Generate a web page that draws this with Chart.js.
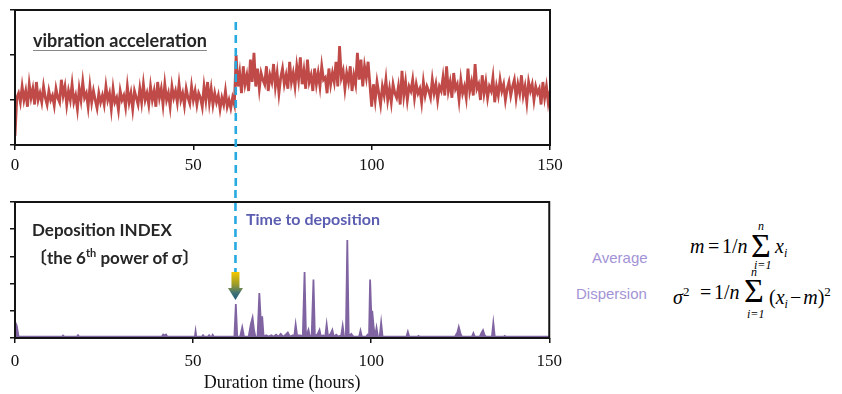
<!DOCTYPE html>
<html>
<head>
<meta charset="utf-8">
<script src="https://cdn.jsdelivr.net/npm/chart.js@4.4.1/dist/chart.umd.min.js"></script>
<style>
  body { margin: 0; width: 842px; height: 394px; background: #fff; position: relative; overflow: hidden; }
  canvas { position: absolute; left: 0; }
  #topChart { top: 0; }
  #bottomChart { top: 190px; }
  .lbl { position: absolute; white-space: nowrap; font-family: Lato, "Noto Sans", "Noto Sans CJK JP", sans-serif; font-weight: 700; color: #262626; }
  .side { position: absolute; white-space: nowrap; font-family: "Liberation Sans", Arial, sans-serif; font-size: 15px; color: #a393d6; }
  .f { position: absolute; white-space: nowrap; font-family: "Liberation Serif", "Times New Roman", serif; font-size: 20px; line-height: 20px; color: #000; }
  .f i { font-style: italic; }
  .sig { position: absolute; font-family: "Liberation Serif", "Times New Roman", serif; font-size: 34px; line-height: 34px; }
  .lim { position: absolute; font-family: "Liberation Serif", "Times New Roman", serif; font-style: italic; font-size: 12px; line-height: 12px; }
  .f sub { font-size: 12px; vertical-align: -4px; }
  .f sup { font-size: 13px; vertical-align: 8px; }
  .op { margin: 0 2px; }
</style>
</head>
<body>
<canvas id="topChart" width="570" height="190"></canvas>
<canvas id="bottomChart" width="570" height="204"></canvas>

<div class="lbl" style="left:33px; top:29px; font-size:18px; line-height:22px; text-decoration:underline; text-decoration-color:#888; text-underline-offset:3px;">vibration acceleration</div>
<div class="lbl" style="left:32px; top:219px; font-size:17px; line-height:22px;">Deposition INDEX</div>
<div class="lbl" style="left:30px; top:242px; font-size:17px; line-height:22px;">〔the 6<sup style="font-size:11px; vertical-align:7px;">th</sup> power of σ〕</div>
<div class="lbl" style="left:246px; top:209px; font-size:16px; line-height:20px; color:#5b5db0;">Time to deposition</div>

<div class="side" style="left:592px; top:249px;">Average</div>
<div class="side" style="left:576px; top:285px;">Dispersion</div>

<div class="f" style="left:690px; top:236px;"><i>m</i></div>
<div class="f" style="left:708px; top:236px;">=</div>
<div class="f" style="left:722px; top:236px;">1/<i>n</i></div>
<div class="sig" style="left:751px; top:229px;">&Sigma;</div>
<div class="lim" style="left:758px; top:220px;">n</div>
<div class="lim" style="left:754px; top:259px;">i=1</div>
<div class="f" style="left:775px; top:236px;"><i>x<sub>i</sub></i></div>

<div class="f" style="left:673px; top:282px;"><i>&sigma;</i><sup>2</sup></div>
<div class="f" style="left:700px; top:282px;">=</div>
<div class="f" style="left:714px; top:282px;">1/<i>n</i></div>
<div class="sig" style="left:744px; top:274px;">&Sigma;</div>
<div class="lim" style="left:751px; top:266px;">n</div>
<div class="lim" style="left:747px; top:308px;">i=1</div>
<div class="f" style="left:769px; top:282px;">(<i>x<sub>i</sub></i><span class="op">&minus;</span><i>m</i>)<sup>2</sup></div>

<script>
// Datos
const SAMPLE_STEP = 0.5;          // horas entre muestras de vibración
const DEPOSITION_HOUR = 61.9;     // "Time to deposition"
const hourTicks = [0, 50, 100, 150];

// aceleración de vibración, una muestra cada 0.5 h (0 .. 150)
const vibValues = [
  0.2, 1.05, 1.15, 0.95, 1.3, 1.0, 1.2, 0.85, 1.35, 1.05,
  1.25, 0.9, 1.4, 1.0, 1.15, 0.95, 1.3, 1.05, 0.9, 1.2,
  1.0, 1.1, 0.88, 1.25, 1.05, 0.95, 1.45, 1.1, 1.3, 0.9,
  1.2, 1.0, 1.35, 0.95, 1.1, 0.8, 1.25, 1.0, 1.4, 1.05,
  1.15, 0.85, 1.3, 0.95, 1.2, 1.0, 0.82, 1.15, 0.95, 1.1,
  0.9, 1.3, 1.0, 1.15, 0.8, 1.25, 0.95, 1.05, 0.78, 1.2,
  1.0, 1.1, 0.85, 1.3, 0.95, 1.15, 0.8, 1.2, 1.05, 0.9,
  1.25, 0.95, 1.35, 1.0, 1.15, 0.9, 1.3, 1.0, 1.2, 0.85,
  1.4, 1.05, 1.25, 0.9, 1.35, 1.0, 1.15, 0.85, 1.3, 1.05,
  1.2, 0.95, 1.35, 1.0, 1.15, 0.88, 1.25, 1.05, 0.92, 1.3,
  1.0, 1.2, 0.9, 1.15, 1.05, 0.85, 1.3, 1.0, 1.4, 0.95,
  1.25, 0.9, 1.15, 0.95, 1.1, 0.8, 1.05, 0.9, 1.2, 0.85,
  1.0, 0.82, 1.05, 0.9,
  2.0, 1.3, 1.6, 1.15, 1.75, 1.35,
  1.55, 1.2, 1.9, 1.4, 2.05, 1.3, 1.7, 1.25, 1.6, 1.45,
  1.35, 1.75, 1.2, 1.55, 1.4, 1.8, 1.3, 1.6, 1.15, 1.5,
  1.7, 1.35, 1.55, 1.25, 1.85, 1.4, 1.6, 1.3, 1.75, 1.45,
  1.95, 1.35, 1.65, 1.25, 1.9, 1.4, 1.55, 1.2, 1.7, 1.35,
  1.6, 1.3, 1.75, 1.45, 1.5, 1.15, 1.7, 1.35, 1.6, 1.4,
  1.85, 1.3, 2.2, 1.5, 1.65, 1.25, 1.6, 1.4, 1.75, 1.2,
  1.55, 1.35, 2.05, 1.45, 1.9, 1.3, 1.75, 1.5, 1.85, 1.35,
  0.85, 1.35, 1.0, 1.4, 1.15, 0.9, 1.3, 1.1, 1.45, 1.0,
  1.25, 0.95, 1.35, 1.15, 1.05, 1.3, 0.9, 1.65, 1.1, 1.4,
  1.0, 1.3, 1.2, 1.45, 1.05, 1.35, 1.15, 1.25, 0.95, 1.4,
  1.1, 1.3, 1.2, 1.05, 1.45, 1.15, 1.35, 1.0, 1.3, 1.2,
  1.5, 1.1, 1.75, 1.2, 1.4, 1.05, 1.6, 1.25, 1.35, 1.0,
  1.45, 1.15, 1.3, 1.05, 1.7, 1.2, 1.4, 1.1, 1.8, 1.25,
  1.35, 1.0, 1.55, 1.15, 1.4, 1.05, 1.3, 1.2, 1.5, 0.95,
  1.3, 1.1, 1.45, 1.2, 1.35, 1.0, 1.25, 1.4, 1.1, 1.3,
  1.45, 1.05, 1.35, 1.15, 1.55, 1.1, 1.3, 0.95, 1.4, 1.2,
  1.35, 1.0, 1.3, 1.15, 1.25, 0.9, 1.4, 1.05, 1.3, 0.95, 1.2
];

// índice de deposición (sexta potencia de sigma)
const depHours = [
  0, 0.5, 1, 8, 13.2, 13.5, 13.8, 17.4, 17.7, 18,
  28, 35, 41.2, 41.6, 42, 42.4, 42.8, 47, 50.5, 50.7,
  50.9, 52.5, 52.8, 53.1, 54.2, 54.5, 54.8, 55.2, 55.5, 55.8,
  58, 61.6, 62.0, 62.4, 63.2, 63.8, 64.3, 65.6, 66.2, 66.7,
  67.1, 67.5, 68.1, 68.6, 69.1, 69.4, 69.8, 70.5, 71.2, 72,
  72.6, 73.3, 74, 74.6, 75.3, 76, 76.6, 77.2, 78, 78.4,
  78.8, 79.2, 80.2, 80.8, 81.3, 81.7, 82.4, 82.8, 83.3, 83.8,
  84.2, 85, 85.5, 85.9, 86.5, 87.1, 87.5, 87.9, 88.6, 89.1,
  89.5, 90.2, 90.8, 91.6, 92, 92.4, 92.9, 93.3, 93.7, 94.4,
  95, 96.6, 97, 97.4, 98.6, 99, 99.4, 99.7, 100.1, 100.3,
  100.7, 101.1, 101.5, 101.9, 102.4, 102.8, 103.2, 105, 107, 109.9,
  110.3, 110.7, 113, 113.3, 113.6, 116, 121, 123.5, 124.2, 124.6,
  125.1, 125.5, 128.3, 128.7, 129.1, 130.5, 131, 131.4, 131.8, 132.2,
  133.9, 134.3, 134.7, 137.2, 137.5, 137.8, 142, 146, 150
];
const depIndex = [
  0.6, 0.45, 0.05, 0.05, 0.05, 0.09, 0.05, 0.05, 0.1, 0.05,
  0.05, 0.05, 0.05, 0.13, 0.09, 0.13, 0.05, 0.05, 0.05, 0.25,
  0.05, 0.05, 0.1, 0.05, 0.05, 0.1, 0.05, 0.05, 0.12, 0.05,
  0.05, 0.05, 1.25, 0.05, 0.05, 0.4, 0.05, 0.05, 0.5, 0.75,
  0.3, 0.05, 0.05, 1.65, 0.4, 0.8, 0.05, 0.1, 0.05, 0.1,
  0.05, 0.12, 0.05, 0.15, 0.05, 0.12, 0.2, 0.05, 0.1, 0.05,
  0.5, 0.1, 0.1, 0.05, 2.43, 0.05, 0.3, 0.05, 0.1, 2.15,
  0.05, 0.15, 0.3, 0.05, 0.1, 0.05, 0.5, 0.05, 0.15, 0.3,
  0.05, 0.12, 0.05, 0.1, 0.45, 0.05, 0.05, 3.6, 0.05, 0.15,
  0.05, 0.05, 0.27, 0.05, 0.05, 0.12, 0.05, 2.15, 0.6, 1.0,
  0.4, 0.05, 0.38, 0.05, 0.05, 0.57, 0.05, 0.05, 0.05, 0.05,
  0.23, 0.05, 0.05, 0.08, 0.05, 0.05, 0.05, 0.05, 0.2, 0.41,
  0.15, 0.05, 0.05, 0.18, 0.05, 0.05, 0.2, 0.29, 0.12, 0.05,
  0.05, 0.56, 0.05, 0.05, 0.08, 0.05, 0.05, 0.05, 0.05
];

// Utilidades
const serif = '"Liberation Serif", "Times New Roman", serif';

const cajaPlugin = {
  id: 'caja',
  afterDatasetsDraw(chart) {
    const { ctx, chartArea: a } = chart;
    ctx.save();
    ctx.strokeStyle = '#141414';
    ctx.lineWidth = 2;
    ctx.strokeRect(a.left, a.top, a.right - a.left, a.bottom - a.top);
    ctx.restore();
  }
};

function lineaPunteada(y1, y2) {
  return {
    id: 'punteada',
    afterDraw(chart) {
      const ctx = chart.ctx;
      const x = chart.scales.x.getPixelForValue(DEPOSITION_HOUR);
      ctx.save();
      ctx.strokeStyle = '#27a9e1';
      ctx.lineWidth = 2.6;
      ctx.setLineDash([8, 5]);
      ctx.beginPath();
      ctx.moveTo(x, y1);
      ctx.lineTo(x, y2 === null ? chart.height : y2);
      ctx.stroke();
      ctx.restore();
    }
  };
}

const flechaPlugin = {
  id: 'flecha',
  afterDraw(chart) {
    const ctx = chart.ctx;
    const x = chart.scales.x.getPixelForValue(DEPOSITION_HOUR);
    const top = 82, neck = 98, tip = 110;
    const g = ctx.createLinearGradient(0, top, 0, tip);
    g.addColorStop(0, '#f6c800');
    g.addColorStop(0.45, '#9a9a2a');
    g.addColorStop(0.75, '#3f7275');
    g.addColorStop(1, '#1f5a78');
    ctx.save();
    ctx.fillStyle = g;
    ctx.beginPath();
    ctx.moveTo(x - 4, top);
    ctx.lineTo(x + 4, top);
    ctx.lineTo(x + 4, neck);
    ctx.lineTo(x + 7.5, neck);
    ctx.lineTo(x, tip);
    ctx.lineTo(x - 7.5, neck);
    ctx.lineTo(x - 4, neck);
    ctx.closePath();
    ctx.fill();
    ctx.restore();
  }
};

function ejeX(tickPad, height, title) {
  return {
    type: 'linear', min: 0, max: 150,
    afterBuildTicks: s => { s.ticks = hourTicks.map(v => ({ value: v })); },
    afterFit: s => { s.height = height; },
    border: { display: false },
    grid: { drawOnChartArea: false, drawTicks: true, tickLength: 5, color: '#141414', lineWidth: 1.5 },
    ticks: { padding: tickPad, color: '#111', font: { family: serif, size: 17 }, maxRotation: 0 },
    title: title ? { display: true, text: title, color: '#111', font: { family: serif, size: 18, lineHeight: 1 }, padding: { top: 0, bottom: 2 } } : { display: false }
  };
}

function ejeY(max) {
  return {
    min: 0, max: max,
    afterFit: s => { s.width = 15; },
    border: { display: false },
    grid: { drawOnChartArea: false, drawTicks: true, tickLength: 5, color: '#141414', lineWidth: 1.5 },
    ticks: { display: false, stepSize: 1 }
  };
}

const opcionesBase = {
  responsive: false,
  animation: false,
  events: [],
  plugins: { legend: { display: false }, tooltip: { enabled: false } },
  elements: { point: { radius: 0 }, line: { tension: 0 } }
};

// Render
new Chart(document.getElementById('topChart'), {
  type: 'line',
  data: {
    datasets: [{
      data: vibValues.map((v, i) => ({ x: i * SAMPLE_STEP, y: v })),
      borderColor: '#bf4a47',
      borderWidth: 2.8
    }]
  },
  options: {
    ...opcionesBase,
    layout: { padding: { top: 10, right: 20, left: 0, bottom: 0 } },
    scales: { x: ejeX(5, 45, null), y: ejeY(3) }
  },
  plugins: [cajaPlugin, lineaPunteada(22, null)]
});

new Chart(document.getElementById('bottomChart'), {
  type: 'line',
  data: {
    datasets: [{
      data: depHours.map((h, i) => ({ x: h, y: depIndex[i] })),
      borderColor: '#8064a2',
      backgroundColor: '#8064a2',
      borderWidth: 1.8,
      fill: 'origin'
    }]
  },
  options: {
    ...opcionesBase,
    layout: { padding: { top: 12, right: 20, left: 0, bottom: 0 } },
    scales: { x: ejeX(8, 56, 'Duration time (hours)'), y: ejeY(5) }
  },
  plugins: [cajaPlugin, lineaPunteada(0, 82), flechaPlugin]
});
</script>
</body>
</html>
